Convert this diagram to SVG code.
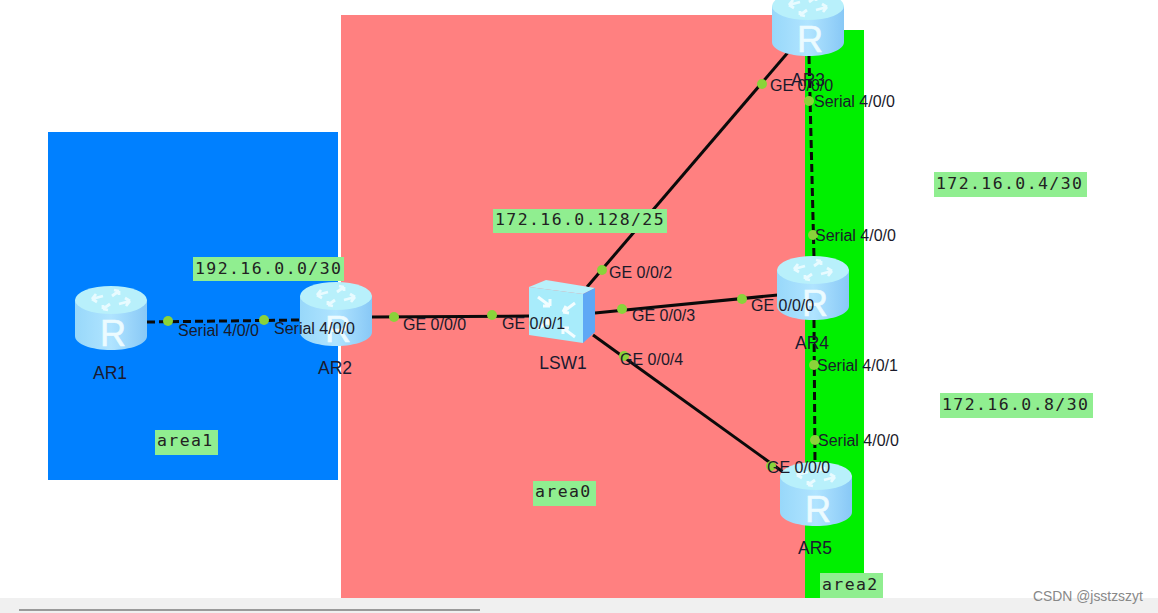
<svg xmlns="http://www.w3.org/2000/svg" xmlns:xlink="http://www.w3.org/1999/xlink" width="1158" height="613" viewBox="0 0 1158 613">
<style>
.lk{stroke:#0a0a0a;stroke-width:3;fill:none}
.ser{stroke-dasharray:8 4}
.dot{fill:#8ad33a}
.port{font:16px "Liberation Sans",Arial,sans-serif;fill:#1a1a2a}
.name{font:17.5px "Liberation Sans",Arial,sans-serif;fill:#1a1a30;text-anchor:middle}
.tag{fill:#90ee90}
.tt{font:16.5px "DejaVu Sans Mono","Liberation Mono",monospace;fill:#222;letter-spacing:1.4px}
</style>
<defs>
<linearGradient id="side" x1="0" x2="1" y1="0" y2="0">
<stop offset="0" stop-color="#98d8fa"/><stop offset=".5" stop-color="#b0e4ff"/><stop offset="1" stop-color="#88c8f6"/>
</linearGradient>
<g id="router">
<path d="M0 14V50C0 58 16 64 36 64S72 58 72 50V14Z" fill="url(#side)"/>
<ellipse cx="36" cy="14" rx="36" ry="14" fill="#b8f0fb"/>
<g fill="none" stroke="#e8fbff" stroke-width="2.8">
<path d="M17 13l11-3M17 13l4-5M17 13l5 3"/>
<path d="M55 15l-11 3M55 15l-4 5M55 15l-5-3"/>
<path d="M44 5l-7 5M44 5l-5-1M44 5l0 4"/>
<path d="M28 23l7-5M28 23l5 1M28 23l0-4"/>
</g>
<text x="38" y="60" font-family="Liberation Sans,Arial,sans-serif" font-size="36" fill="#ecfbff" stroke="#ecfbff" stroke-width=".6" text-anchor="middle">R</text>
</g>
</defs>
<rect width="1158" height="613" fill="#fff"/>
<g id="areas">
<rect x="341" y="15" width="465" height="583" fill="#ff8080"/>
<rect x="48" y="132" width="290" height="348" fill="#0080ff"/>
<rect x="805" y="30" width="59" height="568" fill="#00f000"/>
</g>
<rect y="598" width="1158" height="15" fill="#f0f0f0"/>
<rect x="19" y="609" width="461" height="2" fill="#9a9a9a"/>
<g id="connectors">
<path class="lk ser" d="M147 322L300 320"/>
<path class="lk" d="M372 317L530 316"/>
<path class="lk" d="M587 287L790 50"/>
<path class="lk" d="M595 313L778 295"/>
<path class="lk" d="M593 335L790 477"/>
<path class="lk ser" d="M809 56L814 258"/>
<path class="lk ser" d="M814 320L815 464"/>
<g class="dot">
<circle cx="168" cy="321" r="5"/><circle cx="264" cy="320" r="5"/>
<circle cx="394" cy="317" r="5"/><circle cx="492" cy="315" r="5"/>
<circle cx="602" cy="270" r="5"/><circle cx="622" cy="309" r="5"/><circle cx="624" cy="356" r="5"/>
<circle cx="762" cy="84" r="5"/><circle cx="742" cy="299" r="5"/><circle cx="771" cy="466" r="5"/>
<circle cx="809" cy="101" r="5"/><circle cx="813" cy="235" r="5"/><circle cx="814" cy="365" r="5"/><circle cx="815" cy="440" r="5"/>
</g>
</g>
<g id="AR1"><use xlink:href="#router" href="#router" x="75" y="286"/><text class="name" x="110" y="379">AR1</text></g>
<g id="AR2"><use xlink:href="#router" href="#router" x="300" y="282"/><text class="name" x="335" y="374">AR2</text></g>
<g id="AR3"><use xlink:href="#router" href="#router" x="772" y="-8"/><text class="name" x="808" y="86">AR3</text></g>
<g id="AR4"><use xlink:href="#router" href="#router" x="777" y="256"/><text class="name" x="812" y="349">AR4</text></g>
<g id="AR5"><use xlink:href="#router" href="#router" x="780" y="462"/><text class="name" x="815" y="554">AR5</text></g>
<g id="LSW1">
<path d="M529 287L546 280L595 288L583 294Z" fill="#b8f0fb"/>
<path d="M583 294L595 288V332L583 343Z" fill="#5fa8f5"/>
<path d="M529 287L583 294V343L529 335Z" fill="#a8ecfb"/>
<g fill="none" stroke="#f2fdff" stroke-width="3">
<path d="M538 297l12 9M550 306v-7M550 306h-7"/>
<path d="M575 303l-12 9M563 312l3-6M563 312l6 1"/>
<path d="M538 329l12-9M550 320h-6M550 320l-2 5"/>
<path d="M575 337l-12-9M563 328v6M563 328h6"/>
</g>
<text class="name" x="563" y="369">LSW1</text>
</g>
<g id="port-labels">
<text class="port" x="178" y="336">Serial 4/0/0</text>
<text class="port" x="274" y="334">Serial 4/0/0</text>
<text class="port" x="403" y="330">GE 0/0/0</text>
<text class="port" x="502" y="329">GE 0/0/1</text>
<text class="port" x="609" y="278">GE 0/0/2</text>
<text class="port" x="632" y="321">GE 0/0/3</text>
<text class="port" x="620" y="365">GE 0/0/4</text>
<text class="port" x="770" y="91">GE 0/0/0</text>
<text class="port" x="751" y="311">GE 0/0/0</text>
<text class="port" x="767" y="473">GE 0/0/0</text>
<text class="port" x="814" y="107">Serial 4/0/0</text>
<text class="port" x="815" y="241">Serial 4/0/0</text>
<text class="port" x="817" y="371">Serial 4/0/1</text>
<text class="port" x="818" y="446">Serial 4/0/0</text>
</g>
<g id="labels">
<rect class="tag" x="193" y="257" width="151" height="24"/><text class="tt" x="195" y="274">192.16.0.0/30</text>
<rect class="tag" x="493" y="209" width="174" height="24"/><text class="tt" x="495" y="225">172.16.0.128/25</text>
<rect class="tag" x="934" y="172" width="153" height="25"/><text class="tt" x="936" y="189">172.16.0.4/30</text>
<rect class="tag" x="940" y="393" width="153" height="25"/><text class="tt" x="942" y="410">172.16.0.8/30</text>
<rect class="tag" x="155" y="430" width="63" height="25"/><text class="tt" x="157" y="446">area1</text>
<rect class="tag" x="533" y="481" width="63" height="25"/><text class="tt" x="535" y="497">area0</text>
<rect class="tag" x="820" y="573" width="63" height="25"/><text class="tt" x="822" y="590">area2</text>
</g>
<text x="1033" y="601" font-family="Liberation Sans,Arial,sans-serif" font-size="13.9" fill="#888">CSDN @jsstzszyt</text>
</svg>
